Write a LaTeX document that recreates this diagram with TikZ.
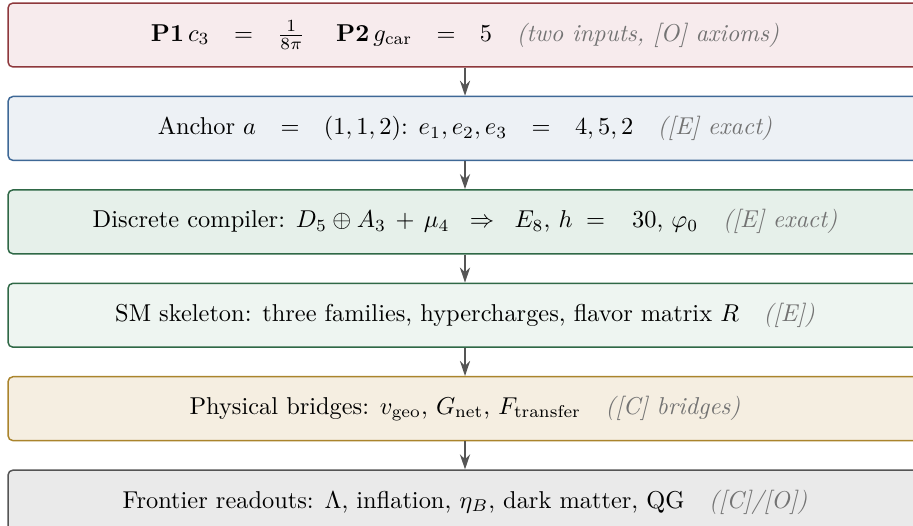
\documentclass[tikz,border=0pt]{standalone}
\usepackage{amsmath,amssymb}
\usepackage{tikz}
\usetikzlibrary{positioning,arrows.meta}
\definecolor{axred}{RGB}{142,56,60}
\definecolor{axredbg}{RGB}{247,235,237}
\definecolor{exblue}{RGB}{62,104,150}
\definecolor{exbluebg}{RGB}{237,241,245}
\definecolor{exgreen}{RGB}{47,104,70}
\definecolor{exgreenbg}{RGB}{230,240,234}
\definecolor{exgreenlt}{RGB}{238,245,241}
\definecolor{brgold}{RGB}{170,132,44}
\definecolor{brgoldbg}{RGB}{245,238,225}
\definecolor{frgray}{RGB}{85,85,85}
\definecolor{frgraybg}{RGB}{234,234,234}
\definecolor{notegray}{RGB}{115,115,115}
\newcommand{\tagnote}[1]{\quad\textcolor{notegray}{\textit{#1}}}
\newcommand{\wideq}{\mskip13mu=\mskip13mu}

\begin{document}
\begin{tikzpicture}[x=0.41pt,y=0.41pt,
    layer/.style={rectangle,rounded corners=2pt,semithick,inner sep=0pt,
      minimum width=374.7pt,minimum height=26.2pt,align=center},
    flow/.style={-{Stealth[length=6.2pt,width=4.2pt]},semithick,frgray}]
        \useasboundingbox (0,0) rectangle (913,-525);
        \node[layer,draw=axred,fill=axredbg] (inputs) at (465,-35)
          {$\mathbf{P1}\,c_3\wideq\frac{1}{8\pi}\quad\;\mathbf{P2}\,g_{\text{car}}\wideq5$\tagnote{(two inputs, [O] axioms)}};
        \node[layer,draw=exblue,fill=exbluebg,below=11.5pt of inputs] (anchor)
          {Anchor $a\wideq(1,1,2)$: $e_1,e_2,e_3\wideq4,5,2$\tagnote{([E] exact)}};
        \node[layer,draw=exgreen,fill=exgreenbg,below=11.5pt of anchor] (compiler)
          {Discrete compiler: $D_5\oplus A_3\,+\,\mu_4\;\;\Rightarrow\;\;E_8$, $h\;=\;\;\;30$, $\varphi_0$\tagnote{([E] exact)}};
        \node[layer,draw=exgreen,fill=exgreenlt,below=11.5pt of compiler] (skeleton)
          {SM skeleton: three families, hypercharges, flavor matrix $R$\tagnote{([E])}};
        \node[layer,draw=brgold,fill=brgoldbg,below=11.5pt of skeleton] (bridges)
          {Physical bridges: $v_{\text{geo}}$, $G_{\text{net}}$, $F_{\text{transfer}}$\tagnote{([C] bridges)}};
        \node[layer,draw=frgray,fill=frgraybg,below=11.5pt of bridges] (frontier)
          {Frontier readouts: $\Lambda$, inflation, $\eta_B$, dark matter, QG\tagnote{([C]/[O])}};
        \draw[flow] (inputs) -- (anchor);
        \draw[flow] (anchor) -- (compiler);
        \draw[flow] (compiler) -- (skeleton);
        \draw[flow] (skeleton) -- (bridges);
        \draw[flow] (bridges) -- (frontier);
      \end{tikzpicture}
\end{document}
